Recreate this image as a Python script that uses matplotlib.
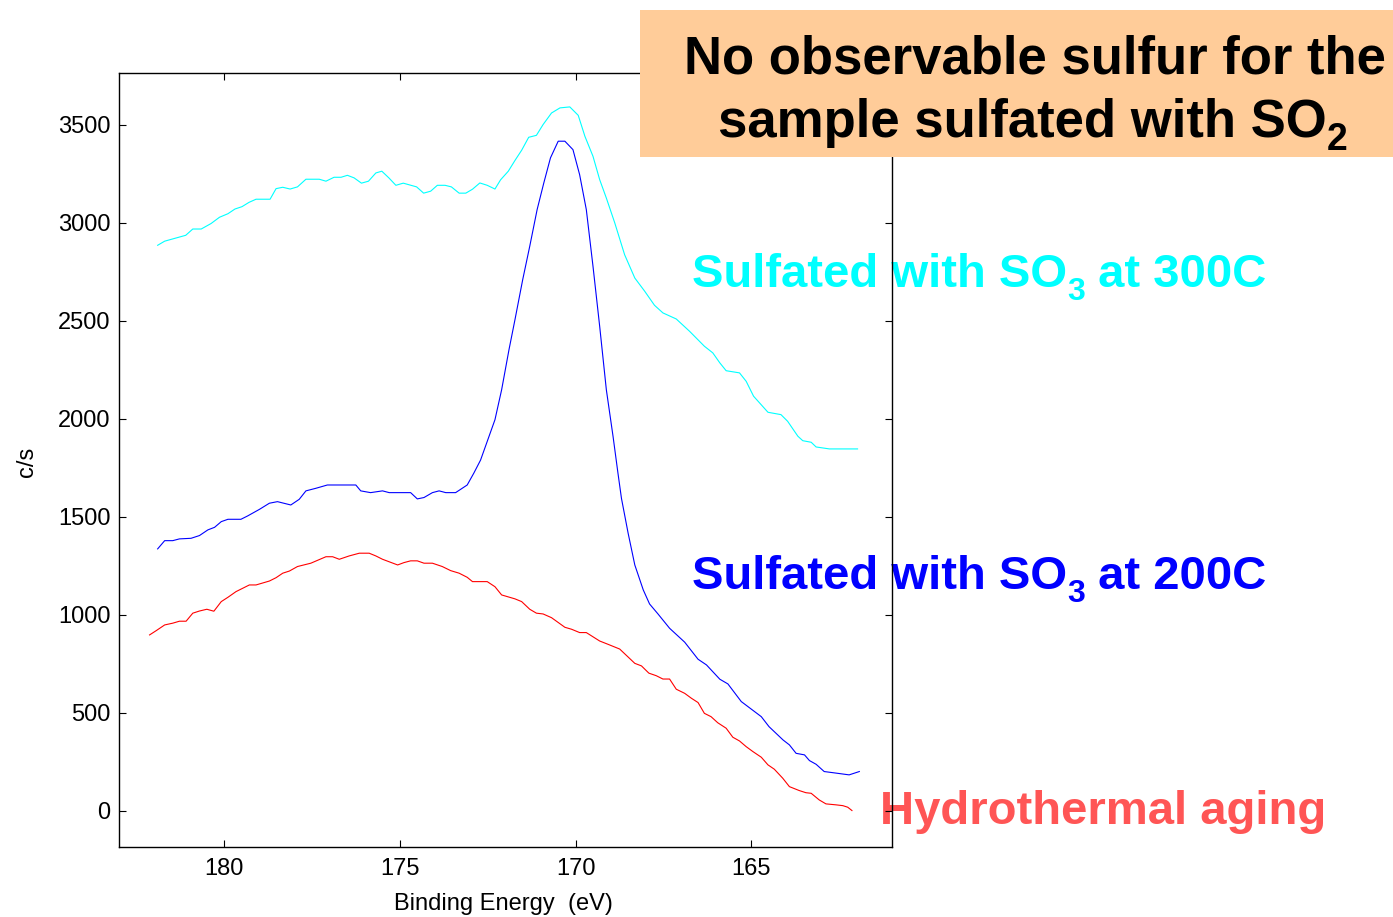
import matplotlib
matplotlib.use("Agg")
from matplotlib import pyplot as plt
from matplotlib.patches import Rectangle

# binding energy (eV) / counts per second
so3_300_be = [181.9, 181.7, 181.1, 180.9, 180.66, 180.38, 180.14, 179.9, 179.7, 179.5,
              179.3, 179.1, 178.7, 178.53, 178.34, 178.13, 177.92, 177.68, 177.3, 177.11,
              176.88, 176.68, 176.5, 176.31, 176.1, 175.9, 175.69, 175.52, 175.32, 175.12,
              174.91, 174.53, 174.33, 174.13, 173.94, 173.72, 173.54, 173.32, 173.13, 172.94,
              172.73, 172.52, 172.3, 172.14, 171.92, 171.73, 171.54, 171.34, 171.12, 170.93,
              170.69, 170.45, 170.17, 169.93, 169.74, 169.51, 169.32, 169.13, 168.89, 168.61,
              168.32, 168.04, 167.76, 167.52, 167.14, 166.76, 166.34, 166.1, 165.9, 165.72,
              165.34, 165.15, 164.94, 164.53, 164.16, 163.97, 163.68, 163.54, 163.3, 163.16,
              162.78, 161.98]
so3_300_cps = [2886, 2907, 2937, 2969, 2969, 2997, 3029, 3047, 3071, 3083,
               3105, 3121, 3121, 3175, 3182, 3173, 3184, 3223, 3223, 3213,
               3233, 3233, 3243, 3230, 3203, 3213, 3255, 3264, 3230, 3192,
               3203, 3184, 3152, 3162, 3192, 3192, 3184, 3152, 3152, 3172,
               3204, 3192, 3173, 3220, 3264, 3319, 3371, 3437, 3447, 3502,
               3561, 3587, 3592, 3549, 3442, 3340, 3221, 3127, 3000, 2838,
               2719, 2652, 2580, 2541, 2510, 2447, 2371, 2337, 2286, 2246,
               2235, 2192, 2116, 2034, 2022, 1988, 1912, 1889, 1881, 1857,
               1847, 1847]

so3_200_be = [181.9, 181.7, 181.47, 181.28, 180.95, 180.71, 180.47, 180.28, 180.09, 179.9,
              179.53, 179.34, 179.0, 178.72, 178.49, 178.11, 177.87, 177.68, 177.4, 177.07,
              176.26, 176.12, 175.84, 175.5, 175.31, 174.7, 174.51, 174.32, 174.08, 173.89,
              173.7, 173.42, 173.09, 172.9, 172.71, 172.3, 172.11, 171.9, 171.73, 171.51,
              171.31, 171.1, 170.91, 170.72, 170.5, 170.31, 170.08, 169.89, 169.7, 169.51,
              169.32, 169.13, 168.94, 168.8, 168.7, 168.51, 168.32, 168.08, 167.9, 167.66,
              167.33, 166.9, 166.52, 166.28, 165.9, 165.67, 165.29, 164.72, 164.5, 164.1,
              163.92, 163.73, 163.49, 163.35, 163.16, 162.93, 162.55, 162.22, 161.93]
so3_200_cps = [1337, 1379, 1379, 1388, 1391, 1405, 1434, 1447, 1476, 1488,
               1488, 1505, 1539, 1570, 1578, 1561, 1590, 1633, 1646, 1663,
               1663, 1633, 1624, 1633, 1624, 1624, 1592, 1599, 1624, 1633,
               1624, 1624, 1663, 1724, 1790, 1996, 2149, 2354, 2507, 2711,
               2881, 3068, 3204, 3332, 3417, 3417, 3374, 3246, 3068, 2779,
               2473, 2149, 1912, 1724, 1595, 1417, 1255, 1128, 1056, 1005,
               932, 861, 774, 745, 672, 648, 558, 481, 430, 362,
               337, 294, 286, 257, 238, 201, 192, 184, 201]

hydro_be = [182.13, 181.94, 181.7, 181.47, 181.28, 181.09, 180.9, 180.71, 180.5, 180.3,
            180.09, 179.9, 179.67, 179.48, 179.29, 179.1, 178.72, 178.53, 178.34, 178.15,
            177.92, 177.54, 177.11, 176.92, 176.73, 176.45, 176.16, 175.88, 175.69, 175.5,
            175.07, 174.89, 174.7, 174.51, 174.32, 174.08, 173.8, 173.56, 173.32, 173.09,
            172.94, 172.52, 172.3, 172.11, 171.73, 171.54, 171.31, 171.12, 170.93, 170.69,
            170.31, 170.12, 169.89, 169.7, 169.32, 169.08, 168.75, 168.32, 168.13, 167.92,
            167.71, 167.52, 167.33, 167.14, 166.9, 166.71, 166.52, 166.34, 166.15, 165.96,
            165.72, 165.53, 165.34, 165.15, 164.96, 164.72, 164.53, 164.35, 164.11, 163.92,
            163.64, 163.45, 163.3, 163.07, 162.88, 162.59, 162.4, 162.26, 162.14]
hydro_cps = [898, 920, 949, 958, 968, 968, 1009, 1020, 1029, 1019,
             1068, 1090, 1119, 1136, 1153, 1153, 1173, 1190, 1213, 1224,
             1247, 1264, 1297, 1297, 1284, 1301, 1315, 1315, 1301, 1284,
             1255, 1267, 1276, 1276, 1264, 1264, 1247, 1226, 1213, 1192,
             1170, 1170, 1144, 1102, 1082, 1068, 1029, 1009, 1005, 986,
             937, 927, 910, 910, 867, 850, 826, 753, 740, 703,
             690, 673, 673, 621, 600, 575, 553, 498, 481, 450,
             422, 376, 357, 328, 303, 274, 235, 213, 167, 124,
             104, 93, 90, 56, 36, 31, 27, 19, 2]

x_ticks = [180, 175, 170, 165]
y_ticks = [0, 500, 1000, 1500, 2000, 2500, 3000, 3500]

plt.rcParams["font.family"] = "Liberation Sans"

W, H = 1393, 917
fig = plt.figure(figsize=(W / 100, H / 100), dpi=100)
ax = fig.add_axes([119 / W, 1 - 847 / H, (892 - 119) / W, (847 - 73) / H])
ax.set_facecolor("none")

ax.plot(so3_300_be, so3_300_cps, color="#00FFFF", lw=0.8)
ax.plot(so3_200_be, so3_200_cps, color="#0000FF", lw=0.8)
ax.plot(hydro_be, hydro_cps, color="#FF0000", lw=0.8)

ax.set_xlim(183, 161)
ax.set_ylim(-184, 3765)
ax.set_xticks(x_ticks)
ax.set_yticks(y_ticks)
ax.tick_params(direction="in", length=5, width=0.8, top=True, right=True,
               labelsize=17, colors="black")
ax.tick_params(axis="y", pad=6)
ax.tick_params(axis="x", pad=8)
for s in ax.spines.values():
    s.set_linewidth(1.0)

fig.text(503 / W, 1 - 893 / H, "Binding Energy  (eV)", fontsize=17, ha="center", va="top")
fig.text(27 / W, 1 - 462 / H, "c/s", fontsize=17, rotation=90, ha="center", va="center")

renderer = fig.canvas.get_renderer()


def write_parts(x, y, parts, size, subsize, drop, **kw):
    # lay the pieces one after the other; subscripts are smaller and dropped
    for s, sub in parts:
        yy = y + drop if sub else y
        t = fig.text(x / W, 1 - yy / H, s, fontsize=subsize if sub else size,
                     fontweight="bold", ha="left", va="baseline", **kw)
        x = t.get_window_extent(renderer=renderer).x1


# labels sit behind the axes frame
write_parts(692, 287, [("Sulfated with SO", False), ("3", True), (" at 300C", False)],
            34, 23, 13, color="#00FFFF", zorder=-1)
write_parts(692, 589, [("Sulfated with SO", False), ("3", True), (" at 200C", False)],
            34, 23, 13, color="#0000FF", zorder=-1)
fig.text(880 / W, 1 - 824 / H, "Hydrothermal aging", color="#FF5555", fontsize=34,
         fontweight="bold", ha="left", va="baseline", zorder=-1)

box = Rectangle((640 / W, 1 - 157 / H), (W - 640) / W, 147 / H, transform=fig.transFigure,
                facecolor="#FFCC99", edgecolor="none", zorder=5)
fig.add_artist(box)
fig.text(1035 / W, 1 - 73 / H, "No observable sulfur for the", fontsize=38,
         fontweight="bold", ha="center", va="baseline", zorder=6)
write_parts(718, 137, [("sample sulfated with SO", False), ("2", True)],
            38, 27, 13, color="black", zorder=6)

fig.savefig("out.png", dpi=100)
